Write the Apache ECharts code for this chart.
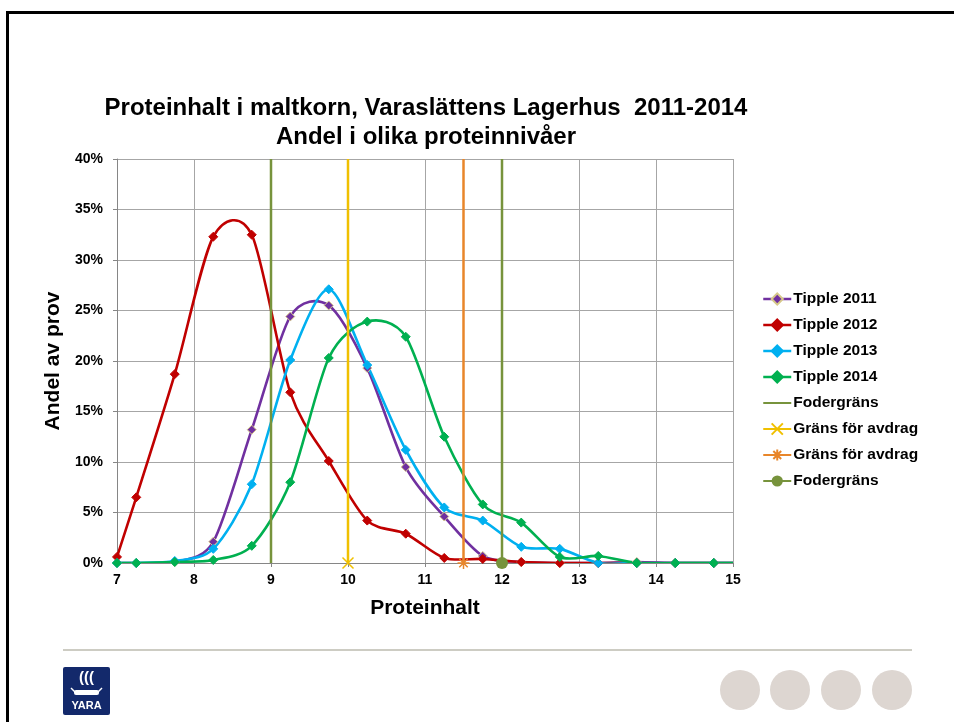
<!DOCTYPE html>
<html>
<head>
<meta charset="utf-8">
<title>Proteinhalt i maltkorn</title>
<script src="https://cdn.jsdelivr.net/npm/echarts@6/dist/echarts.min.js"></script>
<style>
  html, body { margin: 0; padding: 0; background: #fff; }
  #main { width: 954px; height: 722px; }
</style>
</head>
<body>
<div id="main"></div>
<script>
// proteinhalt (x) for each mätpunkt
var protein = [7, 7.25, 7.75, 8.25, 8.75, 9.25, 9.75, 10.25, 10.75, 11.25, 11.75, 12.25, 12.75, 13.25, 13.75, 14.25, 14.75, 15.25];
// andel av prov, %
var tipple2011 = [0, 0, 0.1, 2.1, 13.2, 24.4, 25.5, 19.3, 9.5, 4.6, 0.7, 0.1, 0, 0, 0.1, 0, 0, 0];
var tipple2012 = [0.6, 6.5, 18.7, 32.3, 32.5, 16.9, 10.1, 4.2, 2.9, 0.5, 0.4, 0.1, 0, 0, 0, 0, 0, 0];
var tipple2013 = [0, 0, 0.2, 1.4, 7.8, 20.1, 27.1, 19.6, 11.2, 5.5, 4.2, 1.6, 1.4, 0, 0, 0, 0, 0];
var tipple2014 = [0, 0, 0.1, 0.3, 1.7, 8.0, 20.3, 23.9, 22.4, 12.5, 5.8, 4.0, 0.6, 0.7, 0, 0, 0, 0];
// gränser (proteinhalt)
var fodergrans1 = 9;
var avdrag1 = 10;
var avdrag2 = 11.5;
var fodergrans2 = 12;
var yTicks = [0, 5, 10, 15, 20, 25, 30, 35, 40];
var xTicks = [7, 8, 9, 10, 11, 12, 13, 14, 15];

var chart = echarts.init(document.getElementById('main'), null, { renderer: 'canvas' });

function pairs(ys) {
  var out = [];
  for (var i = 0; i < protein.length; i++) {
    out.push([protein[i], ys[i]]);
  }
  return out;
}

// mjuk kurva som i Excel (bezier, kontrollpunkter från grannpunkterna)
function curve(ys, color) {
  var t = 0.14;
  return {
    type: 'custom',
    data: pairs(ys),
    clip: true,
    silent: true,
    z: 2,
    renderItem: function (params, api) {
      var i = params.dataIndex;
      var n = protein.length;
      if (i >= n - 1) return;
      function p(k) {
        k = Math.max(0, Math.min(n - 1, k));
        return api.coord([protein[k], ys[k]]);
      }
      var p0 = p(i - 1), p1 = p(i), p2 = p(i + 1), p3 = p(i + 2);
      return {
        type: 'bezierCurve',
        shape: {
          x1: p1[0], y1: p1[1], x2: p2[0], y2: p2[1],
          cpx1: p1[0] + (p2[0] - p0[0]) * t, cpy1: p1[1] + (p2[1] - p0[1]) * t,
          cpx2: p2[0] - (p3[0] - p1[0]) * t, cpy2: p2[1] - (p3[1] - p1[1]) * t
        },
        style: { stroke: color, lineWidth: 2.6, fill: null, lineCap: 'round' }
      };
    }
  };
}

// markörerna (och legenden) för en serie
function markers(name, ys, color, border) {
  return {
    name: name,
    type: 'line',
    data: pairs(ys),
    symbol: 'diamond',
    symbolSize: 9,
    clip: true,
    z: 2,
    lineStyle: { width: 2.5, color: color, opacity: 0 },
    itemStyle: { color: color, borderColor: border || color, borderWidth: 1 },
    emphasis: { disabled: true }
  };
}

// vertikal gränslinje, markör bara vid 0%
function grans(name, x, color, symbol, size, markStyle) {
  return {
    name: name,
    type: 'line',
    data: [
      { value: [x, yTicks[0]] },
      { value: [x, yTicks[yTicks.length - 1]], symbol: 'none' }
    ],
    symbol: symbol,
    symbolSize: size,
    lineStyle: { width: 2.5, color: color },
    itemStyle: markStyle || { color: color },
    emphasis: { disabled: true },
    z: 3
  };
}

var crossPath = 'path://M0,0L10,10M10,0L0,10';
var starPath = 'path://M5,0L5,10M0,5L10,5M1.5,1.5L8.5,8.5M8.5,1.5L1.5,8.5';
var legendLine = { opacity: 1, width: 2.5 };

var option = {
  animation: false,
  backgroundColor: '#fff',
  textStyle: { fontFamily: 'Liberation Sans, Arial, sans-serif' },
  title: {
    text: 'Proteinhalt i maltkorn, Varaslättens Lagerhus  2011-2014\nAndel i olika proteinnivåer',
    left: 421,
    top: 89,
    textAlign: 'center',
    textStyle: { fontSize: 24, fontWeight: 'bold', color: '#000', lineHeight: 29 }
  },
  legend: {
    orient: 'vertical',
    left: 762,
    top: 291,
    padding: 0,
    itemWidth: 28,
    itemHeight: 14,
    itemGap: 10,
    textStyle: { fontSize: 15.5, fontWeight: 'bold', color: '#000', lineHeight: 14, padding: [0, 0, 0, -3] },
    data: [
      { name: 'Tipple 2011', lineStyle: legendLine },
      { name: 'Tipple 2012', lineStyle: legendLine },
      { name: 'Tipple 2013', lineStyle: legendLine },
      { name: 'Tipple 2014', lineStyle: legendLine },
      { name: 'Fodergräns', itemStyle: { opacity: 0 } },
      'Gräns för avdrag',
      'Gräns för avdrag ',
      'Fodergräns '
    ]
  },
  grid: { left: 117, right: 221, top: 159, bottom: 159 },
  xAxis: {
    type: 'value',
    min: xTicks[0],
    max: xTicks[xTicks.length - 1],
    interval: 1,
    name: 'Proteinhalt',
    nameLocation: 'middle',
    nameGap: 35,
    nameTextStyle: { fontSize: 21, fontWeight: 'bold', color: '#000' },
    axisLine: { lineStyle: { color: '#868686', width: 1 } },
    axisTick: { show: true, length: 4, lineStyle: { color: '#868686' } },
    axisLabel: { fontSize: 14, fontWeight: 'bold', color: '#000', margin: 10 },
    splitLine: { show: true, lineStyle: { color: '#a6a6a6', width: 1 } }
  },
  yAxis: {
    type: 'value',
    min: yTicks[0],
    max: yTicks[yTicks.length - 1],
    interval: 5,
    name: 'Andel av prov',
    nameLocation: 'middle',
    nameRotate: 90,
    nameGap: 48,
    nameTextStyle: { fontSize: 21, fontWeight: 'bold', color: '#000' },
    axisLine: { show: true, lineStyle: { color: '#868686', width: 1 } },
    axisTick: { show: true, length: 4, lineStyle: { color: '#868686' } },
    axisLabel: { fontSize: 14, fontWeight: 'bold', color: '#000', margin: 14, formatter: '{value}%' },
    splitLine: { show: true, lineStyle: { color: '#a6a6a6', width: 1 } }
  },
  series: [
    curve(tipple2011, '#7030a0'),
    markers('Tipple 2011', tipple2011, '#7030a0', '#d6c88a'),
    curve(tipple2012, '#c00000'),
    markers('Tipple 2012', tipple2012, '#c00000'),
    curve(tipple2013, '#00b0f0'),
    markers('Tipple 2013', tipple2013, '#00b0f0'),
    curve(tipple2014, '#00b050'),
    markers('Tipple 2014', tipple2014, '#00b050'),
    grans('Fodergräns', fodergrans1, '#77933c', 'none', 0),
    grans('Gräns för avdrag', avdrag1, '#f0c000', crossPath, 11,
      { color: '#f0c000', borderColor: '#f0c000', borderWidth: 1.5 }),
    grans('Gräns för avdrag ', avdrag2, '#e8862a', starPath, 12,
      { color: '#e8862a', borderColor: '#e8862a', borderWidth: 1.5 }),
    grans('Fodergräns ', fodergrans2, '#77933c', 'circle', 12)
  ],
  graphic: [
    // bildram
    { type: 'line', shape: { x1: 6, y1: 12.5, x2: 954, y2: 12.5 }, style: { stroke: '#000', lineWidth: 3 } },
    { type: 'line', shape: { x1: 7.5, y1: 11, x2: 7.5, y2: 722 }, style: { stroke: '#000', lineWidth: 3 } },
    // sidfot
    { type: 'line', shape: { x1: 63, y1: 650, x2: 912, y2: 650 }, style: { stroke: '#bdbbaf', lineWidth: 1.5 } },
    { type: 'circle', shape: { cx: 740, cy: 690, r: 20 }, style: { fill: '#ddd6d1' } },
    { type: 'circle', shape: { cx: 790, cy: 690, r: 20 }, style: { fill: '#ddd6d1' } },
    { type: 'circle', shape: { cx: 841, cy: 690, r: 20 }, style: { fill: '#ddd6d1' } },
    { type: 'circle', shape: { cx: 892, cy: 690, r: 20 }, style: { fill: '#ddd6d1' } },
    // YARA logga
    {
      type: 'group', left: 63, top: 667,
      children: [
        { type: 'rect', shape: { x: 0, y: 0, width: 47, height: 48, r: 2 }, style: { fill: '#13296b' } },
        { type: 'text', style: { x: 23.5, y: 3, text: '(((', fill: '#fff', font: 'bold 15px Liberation Sans', align: 'center' } },
        { type: 'rect', shape: { x: 11, y: 23, width: 25, height: 5, r: 2 }, style: { fill: '#fff' } },
        { type: 'line', shape: { x1: 8, y1: 21, x2: 12, y2: 25 }, style: { stroke: '#fff', lineWidth: 1.5 } },
        { type: 'line', shape: { x1: 39, y1: 21, x2: 35, y2: 25 }, style: { stroke: '#fff', lineWidth: 1.5 } },
        { type: 'text', style: { x: 23.5, y: 33, text: 'YARA', fill: '#fff', font: 'bold 11px Liberation Sans', align: 'center' } }
      ]
    }
  ]
};

chart.setOption(option);
</script>
</body>
</html>
